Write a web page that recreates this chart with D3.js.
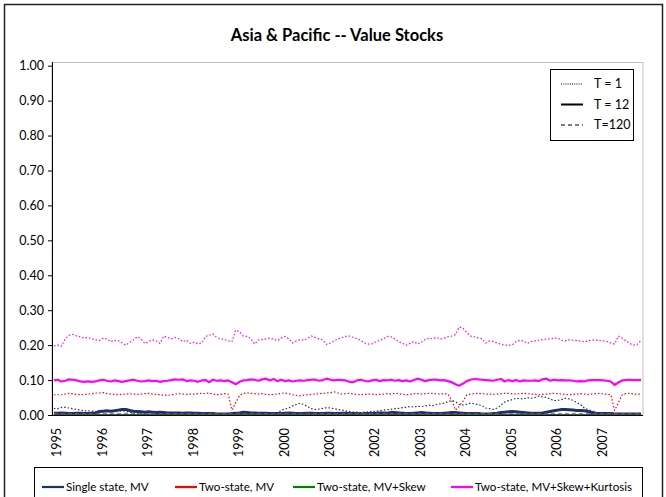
<!DOCTYPE html>
<html>
<head>
<meta charset="utf-8">
<script src="https://cdn.jsdelivr.net/npm/d3@7"></script>
<style>
  html, body { margin: 0; padding: 0; background: #fff; }
  svg { display: block; }
  text { font-family: Lato, "Open Sans", sans-serif; fill: #000; }
</style>
</head>
<body>
<svg id="chart" width="666" height="497"></svg>
<script>
// ---------- DATA ----------
const title = "Asia & Pacific -- Value Stocks";
const years = ["1995","1996","1997","1998","1999","2000","2001","2002","2003","2004","2005","2006","2007"];
const yTicks = [0,0.1,0.2,0.3,0.4,0.5,0.6,0.7,0.8,0.9,1.0];
const modelNames = ["Single state, MV","Two-state, MV","Two-state, MV+Skew","Two-state, MV+Skew+Kurtosis"];
const modelColors = ["#17375E","#FF0000","#008000","#FF00FF"];
const horizonNames = ["T = 1","T = 12","T=120"];

// monthly values, Jan 1995 .. Dec 2007 (one row per year)
const kurtT1 = [
 .198,.200,.197,.218,.228,.231,.226,.224,.220,.222,.218,.215,
 .213,.220,.218,.210,.214,.213,.206,.200,.208,.215,.224,.218,
 .205,.210,.215,.212,.205,.226,.222,.218,.222,.219,.210,.214,
 .205,.208,.204,.206,.225,.228,.232,.222,.218,.216,.212,.210,
 .243,.238,.226,.225,.218,.203,.215,.216,.218,.220,.217,.213,
 .220,.225,.218,.206,.212,.216,.214,.220,.226,.222,.218,.215,
 .202,.206,.212,.218,.222,.225,.226,.222,.218,.214,.206,.203,
 .204,.210,.213,.218,.225,.224,.218,.210,.205,.200,.205,.210,
 .203,.208,.216,.220,.218,.222,.218,.220,.224,.226,.230,.252,
 .248,.236,.226,.224,.221,.218,.206,.212,.210,.206,.203,.200,
 .200,.201,.210,.214,.212,.205,.210,.212,.214,.216,.217,.218,
 .220,.220,.214,.212,.215,.214,.213,.212,.210,.212,.215,.214,
 .213,.212,.210,.206,.203,.226,.220,.212,.205,.200,.202,.214
];
const kurtT12 = [
 .099,.101,.096,.098,.102,.101,.099,.096,.095,.096,.095,.096,
 .099,.101,.098,.096,.099,.097,.095,.097,.099,.101,.098,.096,
 .097,.099,.097,.098,.095,.097,.098,.100,.102,.101,.102,.097,
 .099,.098,.095,.099,.100,.094,.101,.098,.099,.097,.099,.094,
 .088,.095,.099,.100,.102,.101,.098,.102,.104,.099,.103,.097,
 .101,.097,.099,.096,.098,.099,.098,.100,.101,.101,.098,.100,
 .104,.101,.099,.101,.100,.099,.095,.094,.099,.101,.098,.096,
 .099,.101,.097,.100,.099,.101,.098,.100,.097,.099,.096,.100,
 .104,.101,.097,.100,.101,.101,.099,.100,.097,.094,.088,.084,
 .090,.097,.101,.103,.102,.101,.100,.099,.098,.101,.103,.096,
 .100,.097,.100,.096,.099,.098,.098,.099,.097,.102,.104,.098,
 .101,.099,.100,.099,.099,.098,.096,.097,.096,.099,.100,.100,
 .100,.099,.098,.096,.086,.093,.099,.100,.101,.100,.100,.100
];
const kurtT120 = [
 .002,.002,.002,.002,.002,.002,.002,.002,.002,.002,.002,.002,
 .002,.002,.002,.002,.002,.002,.002,.002,.002,.002,.002,.002,
 .002,.002,.002,.002,.002,.002,.002,.002,.002,.002,.002,.002,
 .002,.002,.002,.002,.002,.002,.002,.002,.002,.002,.002,.002,
 .002,.002,.002,.002,.002,.002,.002,.002,.002,.002,.002,.002,
 .002,.002,.002,.002,.002,.002,.002,.002,.002,.002,.002,.002,
 .002,.002,.002,.002,.002,.002,.002,.002,.002,.002,.002,.002,
 .002,.002,.002,.002,.002,.002,.002,.002,.002,.002,.002,.002,
 .002,.002,.002,.002,.002,.002,.002,.002,.002,.002,.002,.002,
 .002,.002,.002,.002,.002,.002,.002,.002,.002,.002,.002,.002,
 .002,.002,.002,.002,.002,.002,.002,.002,.002,.002,.002,.002,
 .002,.002,.002,.002,.002,.002,.002,.002,.002,.002,.002,.002,
 .002,.002,.002,.002,.002,.002,.002,.002,.002,.002,.002,.002
];
const mvT1 = [
 .058,.058,.058,.060,.062,.061,.059,.058,.059,.060,.061,.063,
 .063,.064,.061,.060,.059,.058,.059,.060,.061,.060,.059,.060,
 .061,.062,.060,.059,.058,.057,.056,.058,.060,.061,.060,.059,
 .060,.060,.061,.062,.061,.063,.060,.058,.059,.061,.060,.014,
 .035,.056,.062,.063,.062,.061,.060,.061,.059,.058,.059,.060,
 .062,.063,.061,.058,.056,.055,.057,.058,.059,.060,.061,.062,
 .063,.064,.066,.063,.060,.061,.062,.060,.059,.058,.059,.060,
 .060,.058,.059,.060,.061,.060,.062,.061,.059,.058,.059,.061,
 .061,.060,.061,.062,.062,.061,.060,.061,.060,.042,.014,.025,
 .040,.058,.060,.061,.062,.061,.060,.060,.059,.060,.061,.062,
 .062,.061,.060,.061,.062,.061,.060,.059,.058,.059,.060,.061,
 .062,.061,.060,.059,.058,.059,.060,.061,.060,.059,.060,.061,
 .062,.060,.059,.058,.013,.035,.058,.061,.062,.060,.060,.060
];
const singleT1 = [
 .019,.018,.022,.022,.020,.018,.016,.014,.012,.012,.011,.010,
 .010,.010,.011,.010,.010,.011,.012,.010,.008,.006,.005,.004,
 .003,.002,.002,.002,.001,.001,.001,.001,.001,.001,.001,.001,
 .001,.001,.001,.001,.001,.001,.001,.002,.004,.002,.001,.001,
 .001,.001,.001,.001,.001,.001,.001,.001,.001,.001,.001,.004,
 .014,.017,.020,.026,.030,.034,.030,.024,.018,.016,.017,.019,
 .021,.020,.018,.016,.014,.012,.010,.008,.008,.007,.008,.009,
 .010,.011,.012,.014,.015,.016,.018,.019,.021,.022,.024,.023,
 .025,.024,.026,.028,.027,.030,.032,.034,.038,.041,.038,.030,
 .029,.031,.034,.032,.030,.027,.020,.018,.016,.020,.028,.037,
 .041,.044,.048,.047,.046,.050,.048,.050,.054,.052,.050,.046,
 .041,.042,.044,.048,.046,.042,.036,.030,.020,.015,.012,.008,
 .006,.004,.003,.002,.003,.005,.002,.001,.001,.001,.001,.001
];
const singleT12 = [
 .005,.005,.006,.005,.004,.004,.005,.005,.004,.004,.005,.006,
 .010,.011,.012,.011,.012,.014,.016,.016,.013,.011,.010,.009,
 .008,.009,.008,.007,.008,.007,.006,.006,.006,.006,.005,.006,
 .006,.005,.005,.004,.004,.004,.004,.003,.003,.003,.003,.004,
 .005,.006,.008,.007,.006,.006,.005,.005,.005,.004,.004,.004,
 .004,.005,.006,.005,.004,.004,.004,.005,.005,.004,.004,.004,
 .005,.005,.004,.004,.005,.005,.004,.004,.004,.003,.004,.004,
 .004,.005,.006,.006,.005,.007,.007,.006,.005,.004,.004,.005,
 .006,.007,.006,.005,.004,.004,.004,.005,.006,.007,.007,.006,
 .005,.004,.004,.004,.004,.003,.003,.003,.004,.005,.007,.008,
 .009,.010,.009,.008,.007,.006,.005,.005,.005,.006,.008,.010,
 .012,.014,.016,.016,.015,.014,.013,.013,.012,.010,.007,.005,
 .004,.004,.004,.004,.003,.003,.003,.003,.003,.003,.003,.003
];
const skewT12 = [
 0,0,0,0,0,0,0,0,0,0,0,0,
 0,0,0,0,0,0,0,0,0,0,0,0,
 0,0,0,0,0,0,0,0,0,0,0,0,
 0,0,0,0,0,0,0,0,0,0,0,0,
 0,0,0,0,0,0,0,0,0,0,0,0,
 0,0,0,0,0,0,0,0,0,0,0,0,
 0,0,0,0,0,0,0,0,0,0,0,0,
 0,0,0,0,0,0,0,0,0,0,0,0,
 0,0,0,0,0,0,0,0,0,0,0,0,
 0,0,0,0,0,0,0,0,0,0,0,0,
 0,0,0,0,0,0,0,0,0,0,0,0,
 0,0,0,0,0,0,0,0,0,0,0,0,
 0,0,0,0,0,0,0,0,0,0,0,0
];

// series: [model index, horizon index, values] in drawing order
const series = [
  {m:0, h:0, v:singleT1},
  {m:1, h:0, v:mvT1},
  {m:3, h:0, v:kurtT1},
  {m:3, h:1, v:kurtT12},
  {m:0, h:1, v:singleT12},
  {m:3, h:2, v:kurtT120},
  {m:2, h:1, v:skewT12}
];

// ---------- DRAW ----------
const svg = d3.select("#chart");
const W = 666, H = 497;
const plot = {left: 52, right: 643, top: 62, bottom: 415};

svg.append("rect").attr("x",0).attr("y",0).attr("width",W).attr("height",H).attr("fill","#fff");
// chart area border
svg.append("rect").attr("x",4.5).attr("y",4.5).attr("width",658).attr("height",510)
  .attr("fill","none").attr("stroke","#222").attr("stroke-width",1.5);

svg.append("text").attr("x",337).attr("y",41).attr("text-anchor","middle")
  .style("font-size","16.5px").style("font-weight","bold").text(title);

const nMonths = years.length * 12;
const x = d3.scaleLinear().domain([0, nMonths - 1]).range([53.9, 641.1]);
const y = d3.scaleLinear().domain([0, 1]).range([415, 65.7]);

// plot area border
svg.append("rect").attr("x",plot.left).attr("y",plot.top+0.5)
  .attr("width",plot.right-plot.left).attr("height",plot.bottom-plot.top-0.5)
  .attr("fill","#fff").attr("stroke","#c0c0c0").attr("stroke-width",1);

// y axis
const yAxis = d3.axisLeft(y).tickValues(yTicks).tickFormat(d3.format(".2f")).tickSizeOuter(0).tickSize(4).tickPadding(4);
const gy = svg.append("g").attr("transform",`translate(${plot.left},0)`).call(yAxis);
gy.select(".domain").remove();
gy.selectAll("line").attr("stroke","#000");
gy.selectAll("text").style("font-size","12.5px").style("font-family","Lato, sans-serif");
svg.append("line").attr("x1",plot.left+0.5).attr("x2",plot.left+0.5).attr("y1",plot.top).attr("y2",plot.bottom)
  .attr("stroke","#000").attr("stroke-width",1);

// x axis labels (rotated years at January of each year)
const gx = svg.append("g");
gx.selectAll("text").data(years).enter().append("text")
  .attr("transform",(d,i)=>`translate(${x(i*12)+3},428) rotate(-90)`)
  .attr("text-anchor","end").attr("dy","0.35em")
  .style("font-size","12.5px").text(d=>d);

// lines
const dashFor = [ "1.5,2", null, "4,3" ];
const widthFor = [ 1.2, 2.2, 2 ];
const line = d3.line().x((d,i)=>x(i)).y(d=>y(d));
const lg = svg.append("g");
series.forEach(s => {
  const p = lg.append("path").datum(s.v).attr("d", line)
    .attr("fill","none").attr("stroke", modelColors[s.m])
    .attr("stroke-width", s.m===0 && s.h===1 ? 3 : widthFor[s.h])
    .attr("stroke-linejoin","round");
  if (dashFor[s.h]) p.attr("stroke-dasharray", dashFor[s.h]);
});

// x axis line
svg.append("line").attr("x1",plot.left).attr("x2",plot.right).attr("y1",plot.bottom+0.5).attr("y2",plot.bottom+0.5)
  .attr("stroke","#000").attr("stroke-width",1);

// horizon legend (top right)
const hl = svg.append("g");
hl.append("rect").attr("x",550.5).attr("y",69.5).attr("width",83).attr("height",71)
  .attr("fill","#fff").attr("stroke","#000").attr("stroke-width",1);
horizonNames.forEach((name,i)=>{
  const yy = 84 + i*20.5;
  const l = hl.append("line").attr("x1",561).attr("x2",583).attr("y1",yy).attr("y2",yy)
    .attr("stroke","#000").attr("stroke-width", i===1 ? 2 : 1);
  if (i===0) l.attr("stroke-dasharray","1,1.2");
  if (i===2) l.attr("stroke-dasharray","4,3");
  hl.append("text").attr("x",594).attr("y",yy).attr("dy","0.35em").style("font-size","12.5px").text(name);
});

// model legend (bottom)
const ml = svg.append("g");
ml.append("rect").attr("x",34.5).attr("y",467.5).attr("width",608).attr("height",40)
  .attr("fill","#fff").attr("stroke","#000").attr("stroke-width",1);
const legX = [42, 175, 293, 451];
modelNames.forEach((name,i)=>{
  const yy = 487;
  ml.append("line").attr("x1",legX[i]).attr("x2",legX[i]+22).attr("y1",yy).attr("y2",yy)
    .attr("stroke",modelColors[i]).attr("stroke-width",2.2);
  ml.append("text").attr("x",legX[i]+24).attr("y",yy).attr("dy","0.35em").style("font-size","11.6px").text(name);
});
</script>
</body>
</html>
